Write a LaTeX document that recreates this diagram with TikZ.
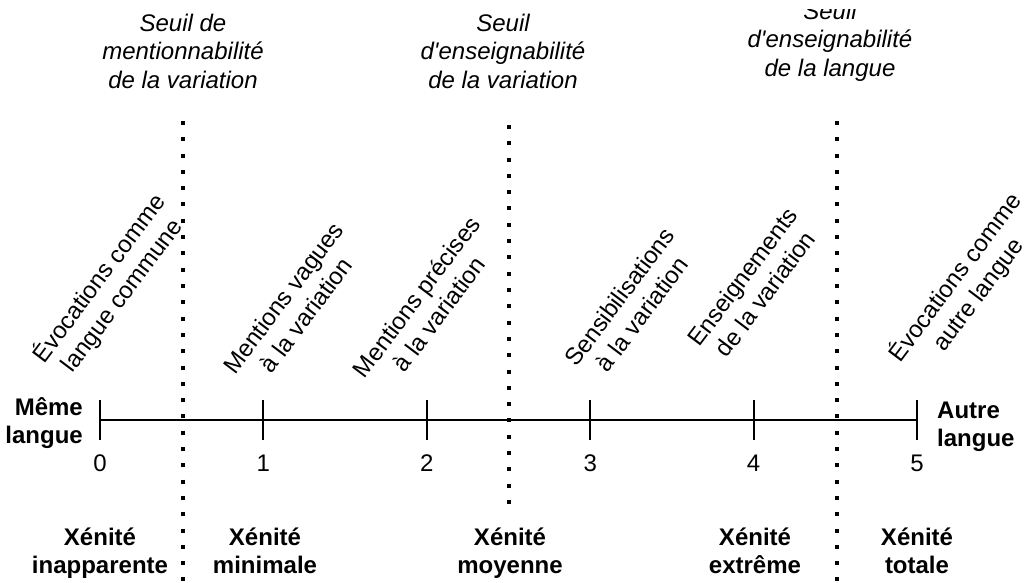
\documentclass[tikz,border=0pt]{standalone}
\usepackage{fontspec}
\setmainfont{Liberation Sans}
\newcommand{\mlines}[2][c]{\begin{tabular}{@{}#1@{}}#2\end{tabular}}
\begin{document}
\begin{tikzpicture}[x=1pt,y=-1pt,
  txt/.style={inner sep=0pt, font=\fontsize{24}{28.5}\selectfont},
  seuil/.style={inner sep=0pt, font=\fontsize{24}{28.5}\selectfont\itshape},
  zone/.style={inner sep=0pt, font=\fontsize{24}{28.5}\selectfont\bfseries},
  rot/.style={txt, rotate=53},
  axisline/.style={line width=2pt},
  threshold/.style={line width=4pt, dash pattern=on 4pt off 12.3pt}]
\useasboundingbox (0,0) rectangle (1026,583);
% axis
\foreach \i in {0,...,5}{
  \coordinate (t\i) at ({100+163.4*\i},420);
  \coordinate (t\i a) at ({100+163.4*\i},400);
  \coordinate (t\i b) at ({100+163.4*\i},440);
  \draw[axisline] (t\i a) -- (t\i b);
  \node[txt] (n\i) at ({100+163.4*\i},463) {\i};
}
\draw[axisline] (t0) -- (t5);
% thresholds
\coordinate (d1a) at (183,121); \coordinate (d1b) at (183,590);
\coordinate (d2a) at (509,125); \coordinate (d2b) at (509,505);
\coordinate (d3a) at (837,121); \coordinate (d3b) at (837,590);
\draw[threshold] (d1a) -- (d1b);
\draw[threshold] (d2a) -- (d2b);
\draw[threshold] (d3a) -- (d3b);
% threshold labels
\node[seuil] (s1) at (183,54) {\mlines{Seuil de\\mentionnabilité\\de la variation}};
\node[seuil] (s2) at (503,54) {\mlines{Seuil\\d\textquotesingle enseignabilité\\de la variation}};
\begin{scope}
  \clip (0,10) rectangle (1026,583);
  \node[seuil] (s3) at (830,42) {\mlines{Seuil\\d\textquotesingle enseignabilité\\de la langue}};
\end{scope}
% rotated labels
\node[rot] (r0) at (112,288) {\mlines{Évocations comme\\langue commune}};
\node[rot] (r1) at (297,308) {\mlines{Mentions vagues\\à la variation}};
\node[rot] (r2) at (430,307) {\mlines{Mentions précises\\à la variation}};
\node[rot] (r3) at (633,307) {\mlines{Sensibilisations\\à la variation}};
\node[rot] (r4) at (756,287) {\mlines{Enseignements\\de la variation}};
\node[rot] (r5) at (968,287) {\mlines{Évocations comme\\autre langue}};
% side labels
\node[zone, anchor=east] (same) at (83,424) {\mlines[r]{Même\\langue}};
\node[zone, anchor=west] (other) at (937,427) {\mlines[l]{Autre\\langue}};
% zones
\node[zone] (x0) at (100,554) {\mlines{Xénité\\inapparente}};
\node[zone] (x1) at (265,554) {\mlines{Xénité\\minimale}};
\node[zone] (x2) at (510,554) {\mlines{Xénité\\moyenne}};
\node[zone] (x3) at (755,554) {\mlines{Xénité\\extrême}};
\node[zone] (x4) at (917,554) {\mlines{Xénité\\totale}};
\end{tikzpicture}
\end{document}
